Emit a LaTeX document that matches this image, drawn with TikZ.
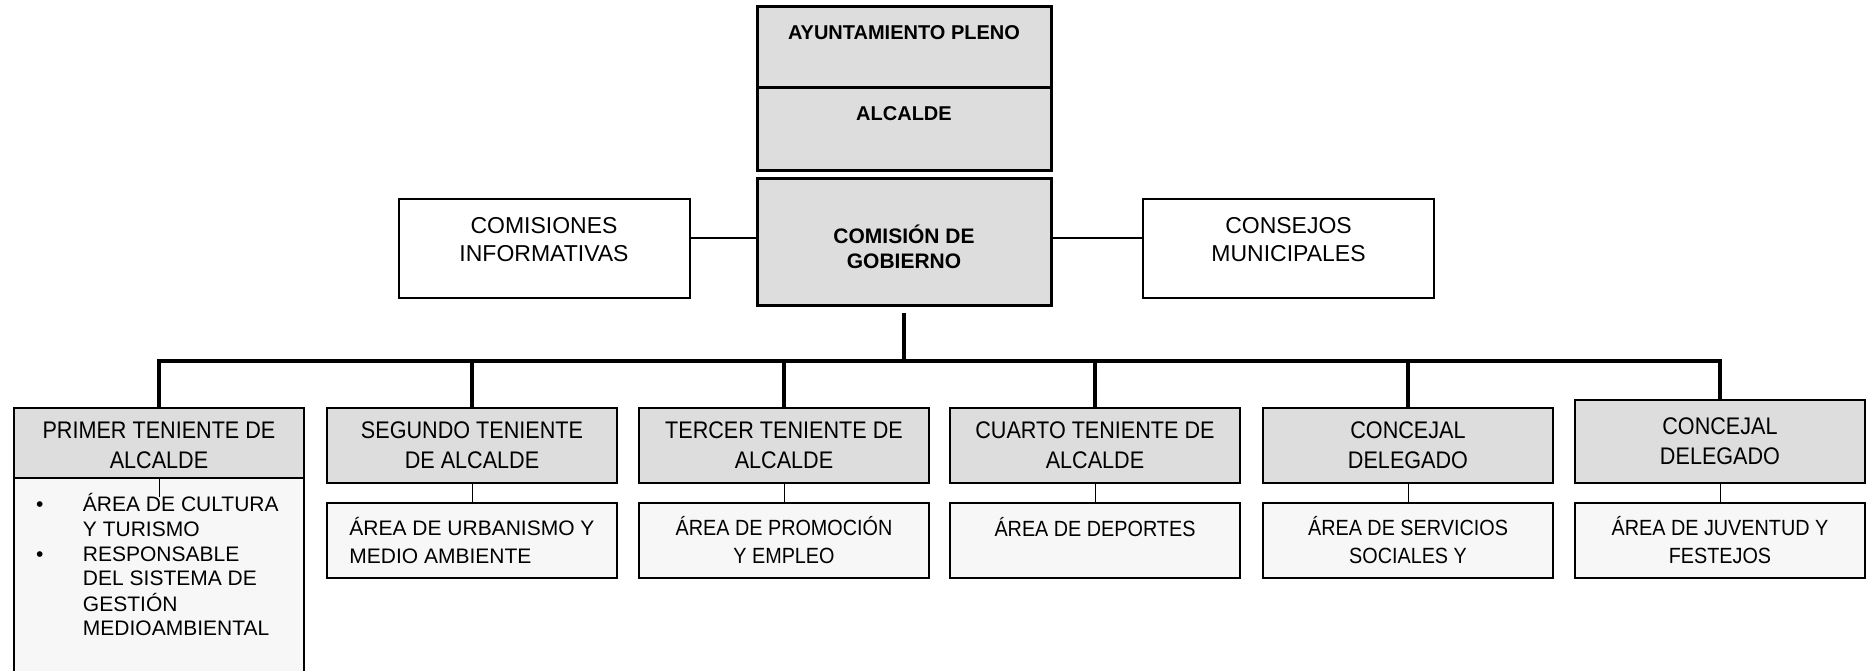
\documentclass[tikz,border=0pt]{standalone}
\usepackage{fontspec}
\setmainfont{Liberation Sans}
\newfontfamily\gothic[FakeStretch=0.9]{Liberation Sans}
\usepackage{tikz}
\usetikzlibrary{positioning}

\definecolor{cajagris}{HTML}{DDDDDD}
\definecolor{cajaclara}{HTML}{F7F7F7}

% two centred lines, baseline on the first one
\newcommand{\dosrenglones}[1]{\begin{tabular}[t]{@{}c@{}}#1\end{tabular}}

\tikzset{
  topbox/.style={draw, line width=1.5pt, fill=cajagris, minimum width=147pt, inner sep=0pt,
    font=\bfseries\fontsize{10}{12.5}\selectfont, align=center},
  sidebox/.style={draw, line width=1pt, fill=white, minimum width=145.5pt, inner sep=0pt,
    text height=17pt, text depth=32.5pt, font=\fontsize{11.5}{14.2}\selectfont},
  headbox/.style={draw, line width=1pt, fill=cajagris, minimum width=145pt, minimum height=37.5pt,
    inner sep=0pt, font=\gothic\fontsize{12}{15}\selectfont, align=center},
  areabox/.style={draw, line width=0.9pt, fill=cajaclara, minimum width=145pt, minimum height=37.5pt,
    inner sep=0pt, font=\gothic\fontsize{11}{14}\selectfont, align=center},
  busline/.style={line width=2pt, line cap=rect},
  branch/.style={line width=1.6pt},
  tie/.style={line width=0.5pt},
  sideline/.style={line width=0.8pt},
}

\begin{document}
\begin{tikzpicture}[x=0.5pt, y=-0.5pt]
    \useasboundingbox (0,0) rectangle (1875,670);

    \node[topbox, text height=16.5pt, text depth=24pt] (pleno) at (904,46.5) {AYUNTAMIENTO PLENO};
    \node[topbox, text height=16.5pt, text depth=25pt] (alcalde) at (904,128.5) {ALCALDE};
    \node[topbox, text height=32.5pt, text depth=31pt, font=\bfseries\fontsize{10.5}{12.6}\selectfont]
      (gobierno) at (904,241.5) {\dosrenglones{COMISIÓN DE\\GOBIERNO}};

    \node[sidebox] (comisiones) at (544,248.5) {\dosrenglones{COMISIONES\\INFORMATIVAS}};
    \node[sidebox] (consejos) at (1288.5,248.5) {\dosrenglones{CONSEJOS\\MUNICIPALES}};

        \node[headbox] (primer) at (159,445.5) {PRIMER TENIENTE DE\\ALCALDE};
        \node[headbox] (segundo) at (472,445.5) {SEGUNDO TENIENTE\\DE ALCALDE};
        \node[headbox] (tercer) at (784,445.5) {TERCER TENIENTE DE\\ALCALDE};
        \node[headbox] (cuarto) at (1095,445.5) {CUARTO TENIENTE DE\\ALCALDE};
        \node[headbox] (concejalA) at (1408,445.5) {CONCEJAL\\DELEGADO};
        \node[headbox, minimum height=41.5pt] (concejalB) at (1720,441.5) {CONCEJAL\\DELEGADO};

        \node[areabox, anchor=north, minimum height=0pt, text height=17pt, text depth=84.5pt,
          font=\fontsize{10.5}{12.3}\selectfont] (cultura) at (159,477) {%
          \begin{tabular}[t]{@{\hspace{11pt}}p{23.5pt}@{}p{110.5pt}@{}}
            \textbullet & ÁREA DE CULTURA\\
                        & Y TURISMO\\
            \textbullet & RESPONSABLE\\
                        & DEL SISTEMA DE\\
                        & GESTIÓN\\
                        & MEDIOAMBIENTAL
          \end{tabular}};
        \node[areabox, align=left, font=\fontsize{10.5}{14}\selectfont] (urbanismo) at (472,540.5) {ÁREA DE URBANISMO Y\\MEDIO AMBIENTE};
        \node[areabox] (promocion) at (784,540.5) {ÁREA DE PROMOCIÓN\\Y EMPLEO};
        \node[areabox] (deportes) at (1095,540.5) {ÁREA DE DEPORTES\\\mbox{}};
        \node[areabox] (servicios) at (1408,540.5) {ÁREA DE SERVICIOS\\SOCIALES Y};
        \node[areabox] (juventud) at (1720,540.5) {ÁREA DE JUVENTUD Y\\FESTEJOS};

        \coordinate (bus) at (904,361);
        \coordinate (culturatie) at (159,497);

        \draw[sideline] (comisiones.east |- 0,238) -- (gobierno.west |- 0,238);
        \draw[sideline] (gobierno.east |- 0,238) -- (consejos.west |- 0,238);

        \draw[branch, shorten <=3pt] (gobierno.south) -- (gobierno |- bus);
        \draw[busline] (primer |- bus) -- (concejalB |- bus);

        \draw[branch] (primer |- bus) -- (primer.north);
        \draw[branch] (segundo |- bus) -- (segundo.north);
        \draw[branch] (tercer |- bus) -- (tercer.north);
        \draw[branch] (cuarto |- bus) -- (cuarto.north);
        \draw[branch] (concejalA |- bus) -- (concejalA.north);
        \draw[branch] (concejalB |- bus) -- (concejalB.north);

        \draw[tie] (cultura.north) -- (culturatie);
        \draw[tie] (segundo.south) -- (urbanismo.north);
        \draw[tie] (tercer.south) -- (promocion.north);
        \draw[tie] (cuarto.south) -- (deportes.north);
        \draw[tie] (concejalA.south) -- (servicios.north);
        \draw[tie] (concejalB.south) -- (juventud.north);

\end{tikzpicture}
\end{document}
